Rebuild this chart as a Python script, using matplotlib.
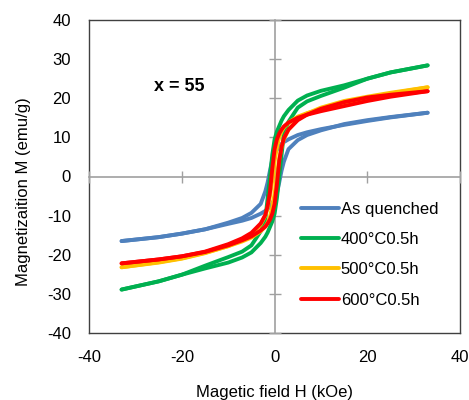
import matplotlib
matplotlib.use('Agg')
import matplotlib.pyplot as plt

plt.rcParams['font.family'] = ['Liberation Sans', 'DejaVu Sans']
plt.rcParams['axes.unicode_minus'] = False

# field grid for the descending branch (kOe); ascending branch uses it reversed
H_down = [33, 25, 20, 15, 10, 7, 5, 3, 2, 1.5, 1, 0.5, 0,
          -0.5, -1, -1.5, -2, -3, -5, -7, -10, -15, -20, -25, -33]
H_up = H_down[::-1]

labels = ['As quenched', '400°C0.5h', '500°C0.5h', '600°C0.5h']
colors = ['#4f81bd', '#00b050', '#ffc000', '#ff0000']

# magnetization (emu/g), descending branch
M_down_aq = [16.3, 15.1, 14.2, 13.2, 12.1, 11.3, 10.6, 9.5, 8.8, 8.3, 7.6, 6.8, 5.8,
             4.3, 1.5, -1.5, -3.8, -7.0, -9.3, -10.6, -11.8, -13.5, -14.6, -15.5, -16.5]
M_down_400 = [28.4, 26.6, 25.0, 23.3, 21.9, 20.7, 19.4, 17.0, 15.4, 14.3, 12.9, 11.5, 9.5,
              5.5, 0.0, -5.5, -11.0, -14.0, -17.6, -19.2, -20.6, -22.8, -25.1, -26.8, -28.9]
M_down_500 = [22.8, 21.2, 20.0, 18.6, 17.2, 16.2, 15.3, 13.8, 12.5, 11.5, 10.0, 7.5, 4.0,
              -1.0, -5.0, -8.0, -10.0, -12.3, -14.8, -16.3, -17.8, -19.6, -21.0, -22.0, -23.2]
M_down_600 = [21.8, 20.4, 19.3, 18.0, 16.7, 15.8, 15.0, 13.8, 12.8, 12.0, 11.0, 9.5, 7.0,
              2.0, -4.0, -7.5, -9.8, -12.0, -14.4, -15.8, -17.3, -19.2, -20.4, -21.2, -22.2]

# magnetization (emu/g), ascending branch
M_up_aq = [-16.5, -15.5, -14.6, -13.5, -12.1, -11.3, -10.6, -9.5, -8.8, -8.3, -7.6, -6.8, -5.8,
           -4.3, -1.5, 1.5, 3.8, 7.0, 9.3, 10.6, 11.8, 13.4, 14.4, 15.2, 16.3]
M_up_400 = [-28.9, -26.8, -25.1, -23.5, -22.0, -20.7, -19.4, -17.0, -15.4, -14.3, -12.9, -11.5, -9.5,
            -5.5, 0.0, 5.5, 11.0, 14.0, 17.6, 19.2, 20.6, 22.7, 25.0, 26.6, 28.4]
M_up_500 = [-23.2, -21.9, -20.9, -19.5, -17.8, -16.6, -15.6, -14.0, -12.8, -11.8, -10.3, -7.8, -4.5,
            0.0, 4.5, 7.5, 9.5, 12.0, 14.6, 16.1, 17.6, 19.3, 20.4, 21.4, 22.8]
M_up_600 = [-22.2, -21.2, -20.4, -19.3, -17.6, -16.3, -15.3, -13.8, -12.8, -12.0, -11.0, -9.5, -7.0,
            -2.0, 4.0, 7.5, 9.8, 12.0, 14.4, 15.8, 17.3, 19.0, 20.2, 20.9, 21.8]

M_down = [M_down_aq, M_down_400, M_down_500, M_down_600]
M_up = [M_up_aq, M_up_400, M_up_500, M_up_600]

x_ticks = [-40, -20, 0, 20, 40]
y_ticks = [-40, -30, -20, -10, 0, 10, 20, 30, 40]

fig = plt.figure(figsize=(4.69, 4.0), dpi=100)
rect = [0.190, 0.1675, 0.791, 0.7825]

# background axes: frame and tick labels
ax = fig.add_axes(rect)
ax.set_xlim(-40, 40)
ax.set_ylim(-40, 40)
ax.set_xticks(x_ticks)
ax.set_yticks(y_ticks)
ax.tick_params(length=0, labelsize=12, pad=12)
ax.tick_params(axis='y', pad=13)
for s in ax.spines.values():
    s.set_color('#404040')
    s.set_linewidth(1.0)
ax.set_xlabel('Magetic field H (kOe)', fontsize=12, va='top')
ax.xaxis.set_label_coords(0.5, -0.166)
ax.set_ylabel('Magnetizaition M (emu/g)', fontsize=12, va='center')
ax.yaxis.set_label_coords(-0.1765, 0.452)

# overlay axes: axes through zero, curves, legend
ax2 = fig.add_axes(rect, sharex=ax, sharey=ax)
ax2.patch.set_visible(False)
ax2.spines['top'].set_visible(False)
ax2.spines['right'].set_visible(False)
ax2.spines['left'].set_position(('data', 0))
ax2.spines['bottom'].set_position(('data', 0))
for side in ['left', 'bottom']:
    ax2.spines[side].set_color('#a0a0a0')
    ax2.spines[side].set_linewidth(1.2)
ax2.tick_params(direction='inout', length=9, width=1.0, color='#a0a0a0',
                labelleft=False, labelbottom=False)

for i in range(4):
    ax2.plot(H_down, M_down[i], color=colors[i], lw=2.8, zorder=3,
             solid_capstyle='round', solid_joinstyle='round', label=labels[i])
    ax2.plot(H_up, M_up[i], color=colors[i], lw=2.8, zorder=3,
             solid_capstyle='round', solid_joinstyle='round')

ax2.text(-20.6, 23, 'x = 55', fontsize=13, fontweight='bold', ha='center', va='center')

leg = ax2.legend(loc='upper left', bbox_to_anchor=(0.53, 0.468), frameon=False,
                 fontsize=12, handlelength=2.3, handletextpad=0.1, labelspacing=0.92)

fig.savefig('out.png', dpi=100)
